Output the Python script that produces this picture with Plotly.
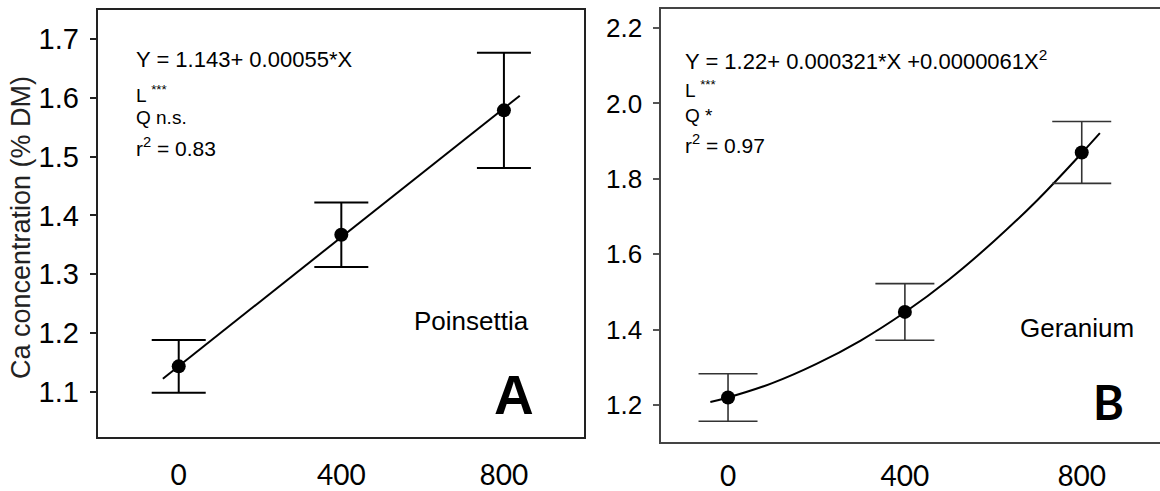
import plotly.graph_objects as go

W, H = 1160, 491

# ---------------- data ----------------
doses = [0, 400, 800]

poin_mean = [1.143, 1.367, 1.579]
poin_err = [0.045, 0.055, 0.098]
poin_fit_x = [-39, 839]
poin_fit_y = [1.122, 1.604]

ger_mean = [1.220, 1.447, 1.870]
ger_err = [0.063, 0.075, 0.082]
ger_fit_x = [-40, 0, 100, 200, 300, 400, 500, 600, 700, 800, 841]
ger_fit_y = [1.208, 1.220, 1.258, 1.309, 1.371, 1.446, 1.533, 1.633, 1.744, 1.868, 1.921]

x_tick_vals = [0, 400, 800]
x_tick_text = ["0", "400", "800"]
a_y_ticks = [1.1, 1.2, 1.3, 1.4, 1.5, 1.6, 1.7]
b_y_ticks = [1.2, 1.4, 1.6, 1.8, 2.0, 2.2]

y_title = "Ca concentration (% DM)"
a_lines = ["Y = 1.143+ 0.00055*X", "L <sup>***</sup>", "Q n.s.", "r<sup>2</sup> = 0.83"]
b_lines = ["Y = 1.22+ 0.000321*X +0.0000061X<sup>2</sup>", "L <sup>***</sup>", "Q *", "r<sup>2</sup> = 0.97"]
a_species, b_species = "Poinsettia", "Geranium"

ARIAL = "Liberation Sans, Arial, sans-serif"
CAL = "Lato, Open Sans, sans-serif"


def px(x):
    return x / W


def py(y):
    return 1 - y / H


fig = go.Figure()

# Panel A
fig.add_trace(go.Scatter(x=poin_fit_x, y=poin_fit_y, mode="lines",
                         line=dict(color="black", width=2), xaxis="x", yaxis="y",
                         showlegend=False, hoverinfo="skip"))
fig.add_trace(go.Scatter(x=doses, y=poin_mean, mode="markers",
                         marker=dict(color="black", size=14),
                         error_y=dict(type="data", array=poin_err, color="black",
                                      thickness=2, width=27),
                         xaxis="x", yaxis="y", showlegend=False))

# Panel B
fig.add_trace(go.Scatter(x=ger_fit_x, y=ger_fit_y, mode="lines",
                         line=dict(color="black", width=2, shape="spline"),
                         xaxis="x2", yaxis="y2", showlegend=False, hoverinfo="skip"))
fig.add_trace(go.Scatter(x=doses, y=ger_mean, mode="markers",
                         marker=dict(color="black", size=14),
                         error_y=dict(type="data", array=ger_err, color="#333333",
                                      thickness=1.6, width=29.5),
                         xaxis="x2", yaxis="y2", showlegend=False))

common_x = dict(showgrid=False, zeroline=False, showline=True, mirror=True,
                linewidth=2, ticks="", tickvals=x_tick_vals, ticktext=x_tick_text,
                tickfont=dict(family=CAL, size=28, color="black"),
                automargin=False)

fig.update_layout(
    width=W, height=H,
    margin=dict(l=0, r=0, t=0, b=0, autoexpand=False),
    paper_bgcolor="white", plot_bgcolor="white",
    xaxis=dict(domain=[px(97.7), px(584)], range=[-199.3, 997], anchor="y",
               linecolor="#222222", ticklabelstandoff=12, **common_x),
    yaxis=dict(domain=[py(437.4), py(9.7)], range=[1.022, 1.7504], anchor="x",
               showgrid=False, zeroline=False, showline=True, mirror=True,
               linewidth=2, linecolor="#222222", automargin=False,
               ticks="outside", ticklen=6, tickwidth=1.5, tickcolor="#222222",
               tickvals=a_y_ticks, tickformat=".1f",
               tickfont=dict(family=ARIAL, size=29, color="black"),
               ticklabelstandoff=5),
    xaxis2=dict(domain=[px(661.4), 1.0], range=[-150.7, 977], anchor="y2",
                linecolor="#444444", ticklabelstandoff=8, **common_x),
    yaxis2=dict(domain=[py(442), py(9)], range=[1.102, 2.2504], anchor="x2",
                showgrid=False, zeroline=False, showline=True, mirror=False,
                linewidth=2, linecolor="#444444", automargin=False,
                ticks="outside", ticklen=6, tickwidth=1.5, tickcolor="#555555",
                tickvals=b_y_ticks, tickformat=".1f",
                tickfont=dict(family=ARIAL, size=26, color="black"),
                ticklabelstandoff=6),
)

ann = []


def add_text(text, x, y, size, family=ARIAL, xanchor="left", bold=False, angle=0, color="black"):
    ann.append(dict(text=("<b>%s</b>" % text) if bold else text,
                    x=px(x), y=py(y), xref="paper", yref="paper",
                    xanchor=xanchor, yanchor="middle", showarrow=False,
                    textangle=angle,
                    font=dict(family=family, size=size, color=color)))


a_sizes = [22, 19, 19, 21]
a_ys = [59.2, 94, 117, 147]
for t, s, y in zip(a_lines, a_sizes, a_ys):
    add_text(t, 134, y, s)
b_ys = [60, 89, 115, 144.5]
for t, s, y in zip(b_lines, a_sizes, b_ys):
    add_text(t, 683, y, s)

add_text(a_species, 471, 321, 26, xanchor="center")
add_text(b_species, 1077, 327.5, 26, xanchor="center")
add_text("A", 514, 395, 55, xanchor="center", bold=True)
add_text("B", 1108, 401.5, 47, family=CAL, xanchor="center", bold=True)
add_text(y_title, 21, 228, 27, xanchor="center", angle=-90, color="#222222")

fig.update_layout(annotations=ann)

fig.write_html("out.html", config={"displayModeBar": False},
               post_script="document.body.style.margin='0px';document.body.style.overflow='hidden';")
